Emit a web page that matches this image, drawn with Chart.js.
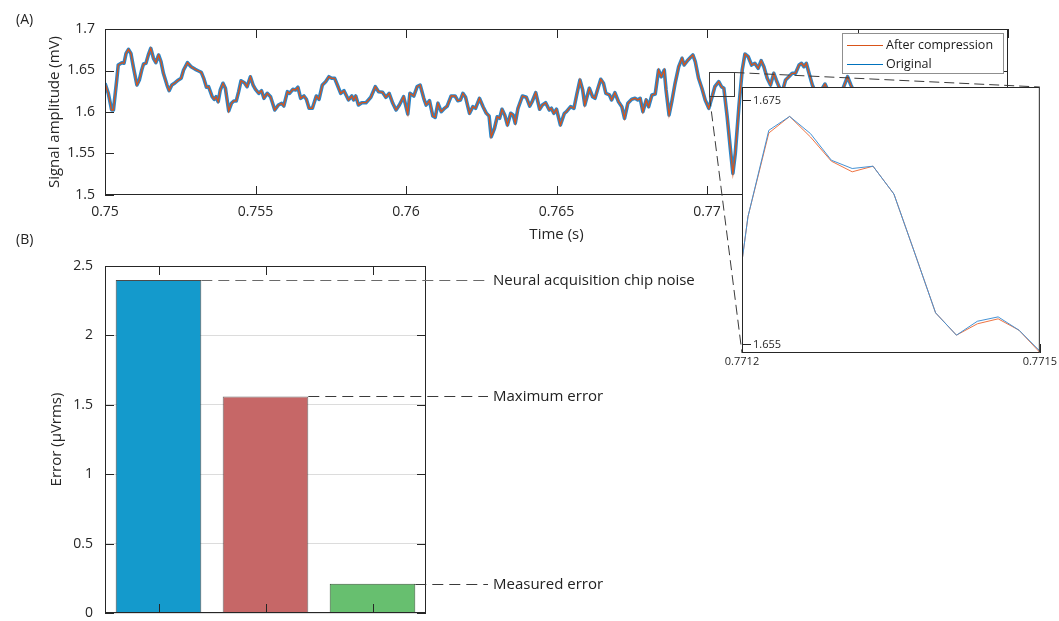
<!DOCTYPE html>
<html>
<head>
<meta charset="utf-8">
<script src="https://cdn.jsdelivr.net/npm/chart.js@4.4.1/dist/chart.umd.min.js"></script>
<style>
  html, body { margin: 0; padding: 0; background: #fff; overflow: hidden; }
  #wrap { position: relative; width: 1059px; height: 621px; overflow: hidden; font-family: 'Open Sans', sans-serif; }
  canvas { position: absolute; left: 0; top: 0; }
  .panel { position: absolute; left: 16px; font-size: 14px; line-height: 16px; color: #222; }
</style>
</head>
<body>
<div id="wrap">
  <canvas id="barChart" width="1059" height="634"></canvas>
  <canvas id="signalChart" width="1059" height="621"></canvas>
  <canvas id="zoomChart" width="1059" height="621"></canvas>
  <div class="panel" style="top:11px">(A)</div>
  <div class="panel" style="top:231px">(B)</div>
</div>
<script>
// (A) recorded signal, seconds / mV (original and compressed overlap at this scale)
const mainTime = [
  0.75000,0.75011,0.75022,0.75028,0.75039,0.75044,0.75056,0.75063,0.75070,0.75078,
  0.75086,0.75094,0.75106,0.75114,0.75122,0.75128,0.75136,0.75144,0.75152,0.75161,
  0.75169,0.75178,0.75186,0.75194,0.75206,0.75213,0.75222,0.75233,0.75244,0.75253,
  0.75261,0.75274,0.75286,0.75300,0.75311,0.75320,0.75328,0.75337,0.75344,0.75356,
  0.75363,0.75369,0.75376,0.75383,0.75392,0.75400,0.75411,0.75420,0.75428,0.75436,
  0.75444,0.75452,0.75463,0.75472,0.75483,0.75492,0.75500,0.75511,0.75520,0.75528,
  0.75539,0.75550,0.75564,0.75576,0.75587,0.75594,0.75606,0.75613,0.75624,0.75633,
  0.75641,0.75650,0.75661,0.75669,0.75678,0.75689,0.75702,0.75711,0.75722,0.75733,
  0.75744,0.75753,0.75763,0.75772,0.75783,0.75794,0.75809,0.75820,0.75826,0.75833,
  0.75842,0.75853,0.75867,0.75883,0.75898,0.75909,0.75922,0.75933,0.75944,0.75956,
  0.75967,0.75978,0.75992,0.76006,0.76013,0.76026,0.76037,0.76047,0.76059,0.76067,
  0.76078,0.76089,0.76097,0.76106,0.76117,0.76128,0.76137,0.76150,0.76163,0.76172,
  0.76181,0.76189,0.76198,0.76211,0.76222,0.76231,0.76244,0.76256,0.76267,0.76276,
  0.76283,0.76294,0.76303,0.76311,0.76319,0.76328,0.76337,0.76348,0.76356,0.76363,
  0.76372,0.76387,0.76400,0.76411,0.76419,0.76431,0.76444,0.76453,0.76464,0.76476,
  0.76483,0.76491,0.76500,0.76513,0.76526,0.76533,0.76547,0.76558,0.76567,0.76578,
  0.76587,0.76594,0.76609,0.76620,0.76628,0.76636,0.76647,0.76656,0.76664,0.76676,
  0.76683,0.76694,0.76706,0.76717,0.76726,0.76737,0.76750,0.76761,0.76770,0.76778,
  0.76787,0.76798,0.76806,0.76817,0.76828,0.76839,0.76848,0.76858,0.76864,0.76874,
  0.76883,0.76894,0.76906,0.76917,0.76924,0.76937,0.76947,0.76953,0.76961,0.76972,
  0.76983,0.76994,0.77006,0.77017,0.77026,0.77039,0.77048,0.77056,0.77067,0.77078,
  0.77086,0.77094,0.77106,0.77117,0.77126,0.77137,0.77148,0.77159,0.77170,0.77180,
  0.77189,0.77200,0.77211,0.77222,0.77230,0.77239,0.77250,0.77261,0.77272,0.77283,
  0.77294,0.77306,0.77314,0.77322,0.77330,0.77339,0.77350,0.77367,0.77392,0.77410,
  0.77433,0.77450,0.77467,0.77478,0.77500,0.77530,0.77560,0.77590,0.77620,0.77650,
  0.77680,0.77710,0.77740,0.77770,0.77800
];
const mainAmp = [
  1.6346,1.6225,1.6024,1.6024,1.6386,1.6566,1.6594,1.6587,1.6707,1.6755,
  1.6707,1.6546,1.6325,1.6386,1.6506,1.6578,1.6587,1.6687,1.6767,1.6647,
  1.6594,1.6687,1.6606,1.6466,1.6325,1.6257,1.6325,1.6353,1.6386,1.6406,
  1.6506,1.6594,1.6546,1.6514,1.6494,1.6478,1.6406,1.6298,1.6305,1.6184,
  1.6153,1.6184,1.6124,1.6265,1.6346,1.6286,1.6012,1.6105,1.6133,1.6133,
  1.6245,1.6377,1.6353,1.6305,1.6425,1.6325,1.6273,1.6225,1.6257,1.6165,
  1.6225,1.6184,1.6024,1.6084,1.6105,1.6072,1.6245,1.6225,1.6273,1.6265,
  1.6298,1.6165,1.6193,1.6153,1.6045,1.6045,1.6193,1.6153,1.6325,1.6365,
  1.6425,1.6406,1.6406,1.6325,1.6225,1.6257,1.6145,1.6193,1.6145,1.6193,
  1.6084,1.6112,1.6112,1.6177,1.6305,1.6245,1.6237,1.6177,1.6225,1.6105,
  1.6024,1.6084,1.6184,1.5976,1.6225,1.6193,1.6305,1.6325,1.6165,1.6084,
  1.6136,1.5952,1.5936,1.6105,1.6004,1.6045,1.6072,1.6193,1.6193,1.6136,
  1.6145,1.6225,1.6177,1.5984,1.6064,1.6045,1.6165,1.6064,1.5984,1.5952,
  1.5702,1.5804,1.5943,1.5924,1.6033,1.5964,1.5843,1.5984,1.5964,1.5864,
  1.6045,1.6193,1.6177,1.6072,1.6124,1.6233,1.6033,1.6084,1.6112,1.6024,
  1.6045,1.5984,1.6033,1.5843,1.5984,1.6004,1.6064,1.6045,1.6205,1.6386,
  1.6265,1.6084,1.6286,1.6184,1.6165,1.6265,1.6394,1.6346,1.6225,1.6205,
  1.6145,1.6233,1.6124,1.6064,1.5924,1.6105,1.6153,1.6165,1.6145,1.6165,
  1.6004,1.6145,1.6064,1.6205,1.6217,1.6506,1.6425,1.6506,1.6265,1.5964,
  1.6124,1.6346,1.6546,1.6647,1.6566,1.6627,1.6666,1.6687,1.6606,1.6406,
  1.6286,1.6145,1.6045,1.6184,1.6305,1.6365,1.6305,1.6286,1.5943,1.5542,
  1.5261,1.5502,1.6064,1.6506,1.6699,1.6666,1.6566,1.6587,1.6527,1.6618,
  1.6546,1.6406,1.6325,1.6466,1.6386,1.6305,1.6241,1.6386,1.6425,1.6466,
  1.6466,1.6566,1.6587,1.6546,1.6587,1.6466,1.6325,1.6181,1.6337,1.6193,
  1.6145,1.6265,1.6425,1.6325,1.6150,1.6250,1.6080,1.6200,1.6100,1.6220,
  1.6050,1.6180,1.6120,1.6250,1.6150
];
const timeTicks = [0.75, 0.755, 0.76, 0.765, 0.77, 0.775, 0.78];
const ampTicks = [1.5, 1.55, 1.6, 1.65, 1.7];

// region marked on (A) by the small rectangle
const zoomBoxTime = [0.77007, 0.7709];
const zoomBoxAmp = [1.6193, 1.6482];

// inset samples
const insetTime = [0.771185, 0.771206, 0.771227, 0.771248, 0.771269, 0.771290, 0.771311, 0.771332,
                   0.771353, 0.771374, 0.771395, 0.771416, 0.771437, 0.771458, 0.771479, 0.771500];
const insetOrig = [1.6527, 1.66547, 1.67255, 1.67369, 1.67228, 1.67010, 1.66942, 1.66961,
                   1.66733, 1.66249, 1.65759, 1.65576, 1.65690, 1.65726, 1.65617, 1.65446];
const insetComp = [1.6527, 1.66547, 1.67233, 1.67369, 1.67200, 1.67002, 1.66915, 1.66961,
                   1.66733, 1.66249, 1.65759, 1.65576, 1.65669, 1.65710, 1.65617, 1.65435];
const insetTimeTicks = [0.7712, 0.7715];
const insetAmpTicks = [1.655, 1.675];

// (B) error comparison, µVrms
const errLabels = ['Neural acquisition chip noise', 'Maximum error', 'Measured error'];
const errValues = [2.4, 1.56, 0.21];
const errTicks = [0, 0.5, 1, 1.5, 2, 2.5];

Chart.defaults.font.family = "'Open Sans', sans-serif";
Chart.defaults.font.size = 14;
Chart.defaults.color = '#262626';
Chart.defaults.animation = false;

const fixTicks = values => scale => { scale.ticks = values.map(v => ({ value: v })); };
const pts = (xs, ys) => xs.map((x, i) => ({ x: x, y: ys[i] }));

// matlab style box with inward ticks
const boxTicks = {
  id: 'boxTicks',
  afterDraw(chart, args, opts) {
    const ctx = chart.ctx, a = chart.chartArea;
    const len = opts.len || 9;
    const xs = chart.scales.x, ys = chart.scales.y;
    ctx.save();
    ctx.strokeStyle = '#262626';
    ctx.lineWidth = 1;
    ctx.beginPath();
    xs.ticks.forEach((t, i) => {
      const px = Math.round(xs.getPixelForTick(i)) + 0.5;
      ctx.moveTo(px, a.bottom); ctx.lineTo(px, a.bottom - len);
      if (opts.mirror) { ctx.moveTo(px, a.top); ctx.lineTo(px, a.top + len); }
    });
    ys.ticks.forEach((t, i) => {
      const py = Math.round(ys.getPixelForTick(i)) + 0.5;
      ctx.moveTo(a.left, py); ctx.lineTo(a.left + len, py);
      if (opts.mirror) { ctx.moveTo(a.right, py); ctx.lineTo(a.right - len, py); }
    });
    ctx.stroke();
    ctx.strokeRect(a.left + 0.5, a.top + 0.5, a.right - a.left - 1, a.bottom - a.top - 1);
    ctx.restore();
  }
};

const whiteArea = {
  id: 'whiteArea',
  beforeDraw(chart) {
    const a = chart.chartArea;
    chart.ctx.save();
    chart.ctx.fillStyle = '#fff';
    chart.ctx.fillRect(a.left, a.top, a.right - a.left, a.bottom - a.top);
    chart.ctx.restore();
  }
};

const noGrid = { display: false, drawTicks: false };

// inset
const zoomChart = new Chart(document.getElementById('zoomChart'), {
  type: 'line',
  data: {
    datasets: [
      { label: 'Original', data: pts(insetTime, insetOrig), borderColor: '#4592d4', borderWidth: 1 },
      { label: 'After compression', data: pts(insetTime, insetComp), borderColor: '#ee7443', borderWidth: 1 }
    ]
  },
  options: {
    responsive: false,
    devicePixelRatio: 1,
    layout: { padding: { top: 87, right: 18, bottom: 0, left: 0 } },
    elements: { point: { radius: 0 }, line: { tension: 0 } },
    plugins: { legend: { display: false }, tooltip: { enabled: false }, boxTicks: { len: 9, mirror: false } },
    scales: {
      x: {
        type: 'linear', min: 0.7712, max: 0.7715,
        afterBuildTicks: fixTicks(insetTimeTicks),
        afterFit: s => { s.height = 268; },
        grid: noGrid, border: { display: false },
        ticks: { padding: 2, font: { size: 11 }, autoSkip: false, minRotation: 0, maxRotation: 0,
                 callback: v => v.toFixed(4) }
      },
      y: {
        min: 1.6543, max: 1.6761,
        afterBuildTicks: fixTicks(insetAmpTicks),
        afterFit: s => { s.width = 742; },
        grid: noGrid, border: { display: false },
        ticks: { mirror: true, padding: 11, font: { size: 11 }, callback: v => v.toFixed(3) }
      }
    }
  },
  plugins: [whiteArea, boxTicks]
});

// zoom rectangle, connector lines and legend for (A)
const signalExtras = {
  id: 'signalExtras',
  afterDraw(chart) {
    const ctx = chart.ctx, xs = chart.scales.x, ys = chart.scales.y;
    const x0 = Math.round(xs.getPixelForValue(zoomBoxTime[0])) + 0.5;
    const x1 = Math.round(xs.getPixelForValue(zoomBoxTime[1])) + 0.5;
    const yTop = Math.round(ys.getPixelForValue(zoomBoxAmp[1])) + 0.5;
    const yBot = Math.round(ys.getPixelForValue(zoomBoxAmp[0])) + 0.5;
    const z = zoomChart.chartArea;
    ctx.save();
    ctx.strokeStyle = '#3a3a3a';
    ctx.lineWidth = 1;
    ctx.strokeRect(x0, yTop, x1 - x0, yBot - yTop);
    ctx.setLineDash([10, 5]);
    ctx.beginPath();
    ctx.moveTo(x0, yBot); ctx.lineTo(z.left, z.bottom);
    ctx.moveTo(x1, yTop); ctx.lineTo(z.right, z.top);
    ctx.stroke();
    ctx.setLineDash([]);

    // legend box
    const lx = 842.5, ly = 33.5, lw = 161, lh = 40;
    ctx.fillStyle = '#fff';
    ctx.fillRect(lx, ly, lw, lh);
    ctx.strokeStyle = '#8f8f8f';
    ctx.strokeRect(lx, ly, lw, lh);
    const items = [['After compression', '#D95319', 45.5], ['Original', '#0072BD', 64.5]];
    ctx.font = "12.5px 'Open Sans', sans-serif";
    ctx.textBaseline = 'middle';
    items.forEach(it => {
      ctx.strokeStyle = it[1];
      ctx.beginPath();
      ctx.moveTo(847, it[2]); ctx.lineTo(883, it[2]);
      ctx.stroke();
      ctx.fillStyle = '#1a1a1a';
      ctx.fillText(it[0], 886, it[2]);
    });
    ctx.restore();
  }
};

new Chart(document.getElementById('signalChart'), {
  type: 'line',
  data: {
    datasets: [
      { label: 'After compression', data: pts(mainTime, mainAmp), borderColor: '#D95319', borderWidth: 1.3 },
      { label: 'Original', data: pts(mainTime, mainAmp), borderColor: '#2a86c9', borderWidth: 3.6,
        borderJoinStyle: 'round' }
    ]
  },
  options: {
    responsive: false,
    devicePixelRatio: 1,
    layout: { padding: { top: 29, right: 51, bottom: 371, left: 0 } },
    elements: { point: { radius: 0 }, line: { tension: 0 } },
    plugins: { legend: { display: false }, tooltip: { enabled: false }, boxTicks: { len: 9, mirror: true } },
    scales: {
      x: {
        type: 'linear', min: 0.75, max: 0.78,
        afterBuildTicks: fixTicks(timeTicks),
        afterFit: s => { s.height = 55; },
        grid: noGrid, border: { display: false },
        ticks: { padding: 9, autoSkip: false, minRotation: 0, maxRotation: 0, callback: v => String(v) },
        title: { display: true, text: 'Time (s)', font: { size: 15 }, padding: { top: 0, bottom: 6 } }
      },
      y: {
        min: 1.5, max: 1.7,
        afterBuildTicks: fixTicks(ampTicks),
        afterFit: s => { s.width = 105; },
        grid: noGrid, border: { display: false },
        ticks: { padding: 10, callback: v => String(v) },
        title: { display: true, text: 'Signal amplitude (mV)', font: { size: 15 }, padding: { top: 46, bottom: 0 } }
      }
    }
  },
  plugins: [boxTicks, signalExtras]
});

// dashed callouts for (B)
const barCallouts = {
  id: 'barCallouts',
  afterDraw(chart) {
    const ctx = chart.ctx;
    const meta = chart.getDatasetMeta(0);
    ctx.save();
    ctx.lineWidth = 1;
    ctx.font = "15px 'Open Sans', sans-serif";
    ctx.textBaseline = 'middle';
    meta.data.forEach((bar, i) => {
      const y = Math.round(bar.y) + 0.5;
      ctx.strokeStyle = i === 0 ? '#6a6a6a' : '#3a3a3a';
      ctx.setLineDash([11, 6]);
      ctx.beginPath();
      ctx.moveTo(bar.x + bar.width / 2, y);
      ctx.lineTo(488, y);
      ctx.stroke();
      ctx.fillStyle = '#222';
      ctx.fillText(chart.data.labels[i], 493, y);
    });
    ctx.restore();
  }
};

new Chart(document.getElementById('barChart'), {
  type: 'bar',
  data: {
    labels: errLabels,
    datasets: [{
      data: errValues,
      backgroundColor: ['#149acc', '#c66767', '#67bf6f'],
      borderColor: ['rgba(30,30,30,0.8)', 'rgba(30,30,30,0.65)', 'rgba(20,60,20,0.85)'],
      borderWidth: 1,
      barPercentage: 0.8,
      categoryPercentage: 1.0
    }]
  },
  options: {
    responsive: false,
    devicePixelRatio: 1,
    layout: { padding: { top: 266, right: 633, bottom: 0, left: 0 } },
    plugins: { legend: { display: false }, tooltip: { enabled: false }, boxTicks: { len: 9, mirror: true } },
    scales: {
      x: {
        afterFit: s => { s.height = 21; },
        grid: noGrid, border: { display: false },
        ticks: { display: false }
      },
      y: {
        min: 0, max: 2.5,
        afterBuildTicks: fixTicks(errTicks),
        afterFit: s => { s.width = 105; },
        grid: { color: '#dcdcdc', drawTicks: false }, border: { display: false },
        ticks: { padding: 12, callback: v => String(v) },
        title: { display: true, text: 'Error (μVrms)', font: { size: 15 }, padding: { top: 48, bottom: 0 } }
      }
    }
  },
  plugins: [boxTicks, barCallouts]
});
</script>
</body>
</html>
